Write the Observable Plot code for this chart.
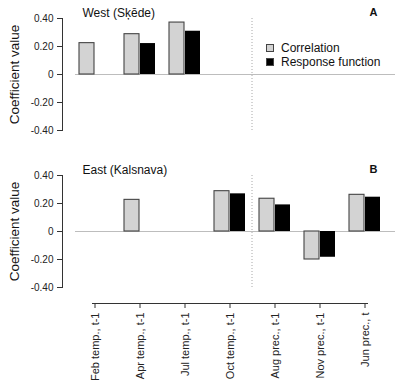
<!DOCTYPE html>
<html>
<head>
<meta charset="utf-8">
<script src="https://cdn.jsdelivr.net/npm/d3@7"></script>
<script src="https://cdn.jsdelivr.net/npm/@observablehq/plot@0.6"></script>
<style>
  body { margin: 0; background: #fff; font-family: "Liberation Sans", Arial, sans-serif; }
  #wrap { position: relative; width: 400px; height: 392px; overflow: hidden; }
  #wrap > .panel { position: absolute; left: 0; }
  .legend { position: absolute; left: 266px; top: 41px; font-size: 12px; color: #111; line-height: 14px; }
  .legend .row { display: flex; align-items: center; height: 14px; }
  .legend .sw { width: 6px; height: 6px; margin-right: 7px; border: 1px solid #444; }
</style>
</head>
<body>
<div id="wrap"></div>
<script>
const categories = ["Feb temp., t-1", "Apr temp., t-1", "Jul temp., t-1", "Oct temp., t-1", "Aug prec., t-1", "Nov prec., t-1", "Jun prec., t"];
const westCorrelation = [0.224, 0.288, 0.371, null, null, null, null];
const westResponse    = [null, 0.221, 0.309, null, null, null, null];
const eastCorrelation = [null, 0.226, null, 0.288, 0.234, -0.200, 0.262];
const eastResponse    = [null, null, null, 0.269, 0.190, -0.184, 0.245];
const yTicks = [-0.4, -0.2, 0, 0.2, 0.4];
const seriesNames = ["Correlation", "Response function"];
const seriesColors = ["#d3d3d3", "#000000"];
const dividerBefore = "Aug prec., t-1";
const panelTitles = ["West (Sķēde)", "East (Kalsnava)"];
const panelLetters = ["A", "B"];

const fmt = d => d === 0 ? "0" : d.toFixed(2);

function panel({corr, resp, title, letter, height, marginBottom, showX}) {
  const rows = categories.map((c, i) => ({category: c, corr: corr[i], resp: resp[i]}));
  const marks = [
    Plot.ruleY([0], {stroke: "#bdbdbd", strokeWidth: 1.2, insetLeft: 6, insetRight: -5}),
    Plot.ruleX([dividerBefore], {x: d => d, dx: -23, stroke: "#a8a8a8", strokeWidth: 1, strokeDasharray: "1,2"}),
    Plot.barY(rows.filter(d => d.corr != null), {x: "category", y: "corr", fill: seriesColors[0], stroke: "#444", strokeWidth: 1.1, insetLeft: 7, insetRight: 23}),
    Plot.barY(rows.filter(d => d.resp != null), {x: "category", y: "resp", fill: seriesColors[1], insetLeft: 23, insetRight: 7}),
    Plot.axisY({ticks: yTicks, tickFormat: fmt, tickSize: 5, tickPadding: 4, dx: -7, label: null, fontSize: 10, stroke: "#333"}),
    Plot.frame({anchor: "left", dx: -7, stroke: "#333"}),
    Plot.text(["Coefficient value"], {frameAnchor: "left", textAnchor: "middle", dx: -55, rotate: -90, fontSize: 13.5, fill: "#111"}),
    Plot.text([title], {frameAnchor: "top-left", dx: 13, dy: -10, fontSize: 12, textAnchor: "start", fill: "#111"}),
    Plot.text([letter], {frameAnchor: "top-right", dx: -13, dy: -10, fontSize: 11, fontWeight: "bold", fill: "#111"})
  ];
  if (showX) {
    marks.push(Plot.axisX({tickRotate: -90, tickSize: 5, tickPadding: 4, dy: 16, fontSize: 11, label: null, stroke: "#333"}));
    marks.push(Plot.frame({anchor: "bottom", dy: 16, insetLeft: 23, insetRight: 23, stroke: "#333"}));
  }
  return Plot.plot({
    width: 400,
    height,
    marginTop: 18,
    marginBottom,
    marginLeft: 69,
    marginRight: 10,
    style: {fontFamily: "'Liberation Sans', Arial, sans-serif", color: "#222", background: "transparent"},
    x: {domain: categories, padding: 0, axis: null},
    y: {domain: [-0.4, 0.4], axis: null},
    marks
  });
}

const wrap = document.getElementById("wrap");
const top1 = panel({corr: westCorrelation, resp: westResponse, title: panelTitles[0], letter: panelLetters[0], height: 157, marginBottom: 27, showX: false});
top1.classList.add("panel"); top1.style.top = "0px";
const bot = panel({corr: eastCorrelation, resp: eastResponse, title: panelTitles[1], letter: panelLetters[1], height: 235, marginBottom: 105, showX: true});
bot.classList.add("panel"); bot.style.top = "157px";
wrap.appendChild(top1);
wrap.appendChild(bot);

const legend = document.createElement("div");
legend.className = "legend";
seriesNames.forEach((name, i) => {
  const row = document.createElement("div");
  row.className = "row";
  const sw = document.createElement("span");
  sw.className = "sw";
  sw.style.background = seriesColors[i];
  row.appendChild(sw);
  row.appendChild(document.createTextNode(name));
  legend.appendChild(row);
});
wrap.appendChild(legend);
</script>
</body>
</html>
